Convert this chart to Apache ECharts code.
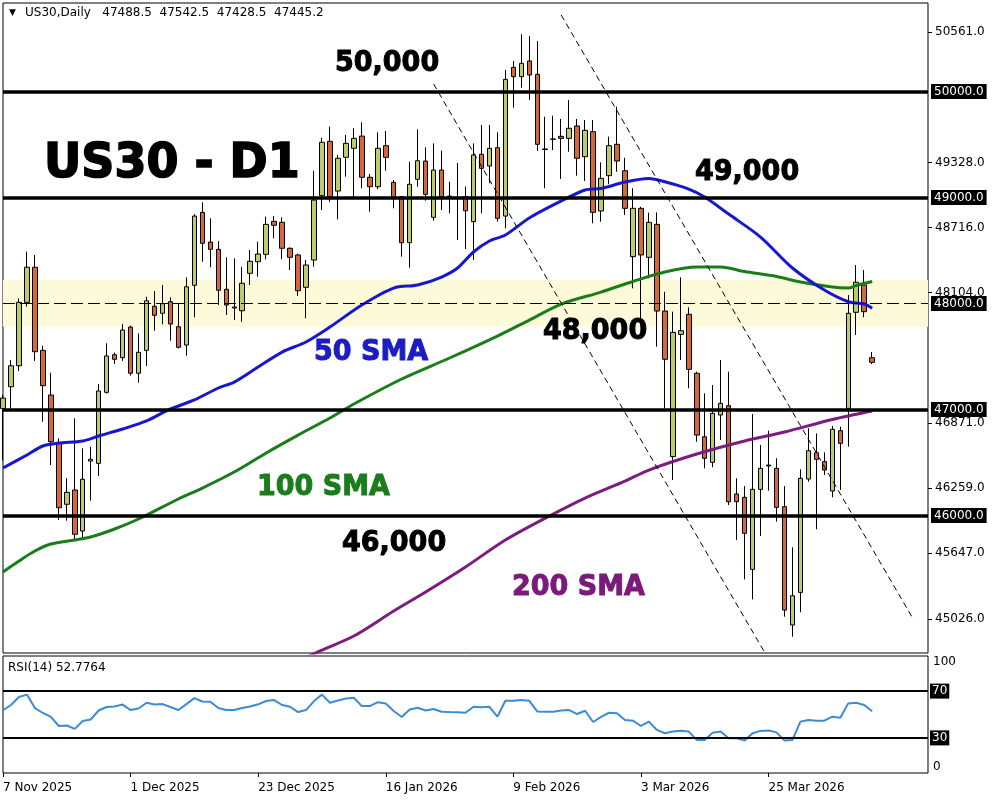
<!DOCTYPE html>
<html>
<head>
<meta charset="utf-8">
<title>US30 - D1</title>
<script src="https://cdn.jsdelivr.net/npm/echarts@6/dist/echarts.min.js"></script>
<style>
  html, body { margin: 0; padding: 0; background: #fff; }
  #chart { width: 1000px; height: 800px; }
</style>
</head>
<body>
<div id="chart"></div>
<script>
// trading days shown on the chart (last few are empty space on the right)
const monthDays = [
    ['Nov 2025', [7, 10, 11, 12, 13, 14, 17, 18, 19, 20, 21, 24, 25, 26, 27, 28]],
    ['Dec 2025', [1, 2, 3, 4, 5, 8, 9, 10, 11, 12, 15, 16, 17, 18, 19, 22, 23, 24, 26, 29, 30, 31]],
    ['Jan 2026', [2, 5, 6, 7, 8, 9, 12, 13, 14, 15, 16, 19, 20, 21, 22, 23, 26, 27, 28, 29, 30]],
    ['Feb 2026', [2, 3, 4, 5, 6, 9, 10, 11, 12, 13, 16, 17, 18, 19, 20, 23, 24, 25, 26, 27]],
    ['Mar 2026', [2, 3, 4, 5, 6, 9, 10, 11, 12, 13, 16, 17, 18, 19, 20, 23, 24, 25, 26, 27, 30, 31]],
    ['Apr 2026', [1, 2, 3, 6, 7, 8, 9, 10, 13, 14, 15, 16, 17, 20, 21, 22]],
];
const categories = monthDays.flatMap(([m, days]) => days.map((d) => `${d} ${m}`));
const labelIndexes = [0, 16, 32, 48, 64, 80, 96];

const opens = [
    47010, 47215, 47413, 48011, 48342, 47558, 47137, 46681, 46106, 46241,
    45854, 46514, 46492, 47162, 47517, 47489, 47778, 47342, 47558, 47974,
    47908, 48017, 47781, 47608, 48172, 48860, 48580, 48511, 48134, 47958,
    47932, 48285, 48394, 48464, 48775, 48766, 48521, 48458, 48153, 48410,
    49017, 49530, 49061, 49379, 49464, 49580, 49191, 49102, 49489, 49143,
    49008, 48574, 49172, 49344, 48813, 49259, 49014, 48995, 49008, 48772,
    49408, 49297, 49470, 48825, 50228, 50140, 50288, 50162, 49458, 49549,
    49577, 49558, 49675, 49385, 49621, 48873, 49206, 49502, 49253, 48442,
    48898, 48436, 48747, 47929, 46555, 47709, 47898, 47342, 46743, 46502,
    46948, 47036, 46203, 46172, 45492, 46247, 46476, 46445, 46083, 44967,
    45275, 46344, 46592, 46508, 46231, 46800, 47011, 47917, 48175, 47488.5,
];
const highs = [
    47140, 47467, 48049, 48489, 48458, 47602, 47347, 46728, 46351, 46917,
    46634, 46649, 47241, 47625, 47536, 47807, 47791, 47719, 48064, 48118,
    48175, 48058, 48002, 48247, 48842, 48955, 48804, 48590, 48436, 48426,
    48347, 48505, 48583, 48819, 48825, 48813, 48530, 48470, 48410, 49253,
    49564, 49668, 49401, 49590, 49653, 49709, 49222, 49615, 49627, 49165,
    49015, 49338, 49643, 49474, 49511, 49442, 49149, 49325, 49104, 49511,
    49684, 49684, 49615, 50203, 50288, 50540, 50524, 50476, 49762, 49772,
    49741, 49920, 49741, 49731, 49731, 49332, 49574, 49857, 49375, 49087,
    48913, 48857, 48860, 48111, 47923, 48247, 47964, 47357, 47153, 47231,
    47467, 47357, 46351, 46278, 46958, 46665, 46800, 46540, 46278, 45700,
    46436, 46823, 46775, 46596, 46844, 46838, 48080, 48363, 48316, 47542.5,
];
const lows = [
    46520, 46986, 47363, 47970, 47458, 46885, 46476, 45958, 45951, 45769,
    45785, 46140, 46373, 47150, 47429, 47458, 47319, 47253, 47410, 47743,
    47804, 47649, 47577, 47508, 47870, 48394, 48342, 47986, 47892, 47844,
    47828, 48175, 48253, 48417, 48615, 48417, 48316, 48071, 47860, 48347,
    48882, 48960, 48794, 49196, 48992, 49087, 48866, 49077, 49253, 48898,
    48442, 48338, 49102, 48970, 48781, 48882, 48851, 48599, 48514, 48410,
    48851, 49134, 48772, 48709, 49847, 50036, 49920, 49439, 49087, 49448,
    49175, 49432, 49206, 49156, 48757, 48772, 49125, 49243, 48835, 48143,
    47797, 48238, 47592, 47011, 46335, 47467, 47200, 46696, 46445, 46455,
    46712, 46099, 45769, 45398, 45209, 45807, 46234, 45942, 45045, 44857,
    45087, 46319, 45870, 46382, 46172, 46241, 46649, 47703, 47870, 47428.5,
];
const closes = [
    47108, 47413, 48011, 48342, 47545, 47225, 46696, 46074, 46219, 45823,
    46342, 46530, 47175, 47505, 47474, 47750, 47342, 47540, 48026, 47889,
    47998, 47807, 47587, 48158, 48825, 48568, 48511, 48125, 47986, 47967,
    48191, 48398, 48467, 48747, 48738, 48521, 48436, 48121, 48363, 48976,
    49521, 49008, 49370, 49511, 49558, 49191, 49102, 49464, 49379, 48992,
    48574, 49125, 49347, 49030, 49259, 49008, 49005, 48990, 48875, 49401,
    49275, 49464, 48804, 50115, 50140, 50266, 50156, 49502, 49453, 49552,
    49558, 49653, 49370, 49634, 48860, 49181, 49489, 49344, 48898, 48898,
    48458, 48766, 47929, 47474, 47728, 47743, 47379, 46759, 46540, 46964,
    47058, 46130, 46130, 45832, 46247, 46445, 46467, 46077, 45108, 45243,
    46351, 46611, 46530, 46429, 46813, 46681, 47908, 48200, 47923, 47445.2,
];

// moving averages as [bar index, price]
const sma50 = [
    [0, 46448], [3, 46571], [5, 46656], [7, 46684], [10, 46703], [12, 46750], [15, 46816],
    [18, 46892], [21, 47005], [24, 47090], [27, 47203], [29, 47259], [32, 47401], [35, 47542],
    [38, 47637], [41, 47778], [45, 47986], [49, 48146], [52, 48175], [55, 48250], [57, 48335],
    [59, 48486], [61, 48590], [63, 48646], [66, 48807], [70, 48967], [73, 49071], [75, 49085],
    [78, 49146], [81, 49179], [83, 49149], [86, 49080], [88, 49005], [91, 48844], [95, 48627],
    [99, 48335], [103, 48127], [106, 48017], [108, 47995], [109, 47955],
];
const sma100 = [
    [0, 45467], [2, 45571], [4, 45665], [6, 45731], [9, 45769], [11, 45797], [14, 45873],
    [17, 45967], [22, 46156], [25, 46259], [29, 46410], [33, 46590], [37, 46759], [41, 46920],
    [44, 47052], [50, 47288], [56, 47486], [62, 47693], [66, 47844], [70, 47995], [75, 48108],
    [79, 48208], [83, 48297], [87, 48344], [90, 48344], [93, 48302], [97, 48255], [100, 48203],
    [104, 48156], [106, 48146], [107, 48170], [109, 48208],
];
const sma200 = [
    [38, 44660], [40, 44731], [44, 44863], [49, 45099], [53, 45278], [58, 45514], [63, 45769],
    [69, 46014], [73, 46165], [78, 46325], [81, 46429], [87, 46580], [93, 46703], [98, 46788],
    [104, 46906], [109, 46986],
];

// falling channel (dashed trendlines)
const channelUpper = [[70, 50722], [114, 45042]];
const channelLower = [[54, 50071], [96, 44646]];

const rsi = [
    53.8, 58.1, 64.9, 67.0, 55.5, 51.3, 47.9, 40.2, 40.6, 37.7,
    44.5, 45.7, 53.4, 56.4, 56.8, 58.5, 53.8, 55.1, 60.0, 58.6,
    58.9, 56.4, 53.8, 58.9, 64.0, 61.1, 60.9, 55.5, 53.8, 53.8,
    55.5, 56.8, 58.7, 61.5, 62.3, 58.1, 56.6, 52.1, 53.8, 61.5,
    67.0, 60.0, 61.9, 63.6, 64.3, 57.2, 57.2, 60.5, 59.4, 53.0,
    47.9, 54.3, 55.8, 53.4, 54.7, 52.4, 52.1, 51.9, 51.5, 56.6,
    56.1, 56.6, 48.1, 61.7, 61.7, 62.3, 61.7, 52.6, 52.4, 52.4,
    53.4, 53.8, 50.4, 53.2, 43.6, 47.9, 51.5, 51.0, 45.3, 44.7,
    40.2, 43.9, 36.8, 34.0, 35.5, 36.2, 35.4, 28.3, 28.3, 34.5,
    35.4, 29.7, 29.7, 27.7, 34.0, 36.0, 36.4, 34.7, 27.7, 28.3,
    43.9, 45.3, 44.7, 44.7, 48.1, 47.3, 59.5, 60.0, 58.1, 52.7764,
];

const priceTicks = [45026, 45647, 46259, 46871, 48104, 48716, 49328, 50561];
const solidLevels = [50000, 49000, 47000, 46000];
const dashedLevel = 48000;
const zoneLow = 47781;
const zoneHigh = 48222;
const rsiLevels = [70, 30];

const FONT = 'DejaVu Sans';
const BULL = '#bccb6c';
const BEAR = '#d4673b';

const candleData = opens.map((o, i) => [o, closes[i], lows[i], highs[i]]);
const lastClose = closes[closes.length - 1];

const boxLabel = {
    show: true,
    position: 'end',
    distance: 3,
    color: '#fff',
    backgroundColor: '#000',
    padding: [2, 3, 1, 3],
    fontFamily: FONT,
    fontSize: 12,
};

const annotations = [
    { text: 'US30 - D1', x: 44, y: 164, size: 46, color: '#000' },
    { text: '50,000', x: 335, y: 64, size: 27, color: '#000' },
    { text: '49,000', x: 695, y: 173, size: 27, color: '#000' },
    { text: '48,000', x: 543, y: 332, size: 27, color: '#000' },
    { text: '46,000', x: 342, y: 544, size: 27, color: '#000' },
    { text: '50 SMA', x: 314, y: 353, size: 27, color: '#1c1cc4' },
    { text: '100 SMA', x: 257, y: 488, size: 27, color: '#1a7c1a' },
    { text: '200 SMA', x: 512, y: 588, size: 27, color: '#7c1a7c' },
];

const chart = echarts.init(document.getElementById('chart'), null, { renderer: 'canvas' });

const option = {
    animation: false,
    backgroundColor: '#fff',
    textStyle: { fontFamily: FONT },
    grid: [
        { left: 3, top: 3, width: 925, height: 650, show: true, borderColor: '#000', borderWidth: 1 },
        { left: 3, top: 656, width: 925, height: 117, show: true, borderColor: '#000', borderWidth: 1 },
    ],
    xAxis: [
        {
            type: 'category',
            gridIndex: 0,
            data: categories,
            boundaryGap: false,
            axisLine: { show: false },
            axisTick: { show: false },
            axisLabel: { show: false },
            splitLine: { show: false },
        },
        {
            type: 'category',
            gridIndex: 1,
            data: categories,
            boundaryGap: false,
            axisLine: { show: false },
            axisTick: {
                show: true,
                length: 4,
                interval: (idx) => labelIndexes.includes(idx),
                lineStyle: { color: '#000' },
            },
            axisLabel: {
                interval: (idx) => labelIndexes.includes(idx),
                align: 'left',
                margin: 9,
                color: '#000',
                fontFamily: FONT,
                fontSize: 12,
            },
            splitLine: { show: false },
        },
    ],
    yAxis: [
        {
            type: 'value',
            gridIndex: 0,
            position: 'right',
            min: 44703,
            max: 50835,
            splitLine: { show: false },
            axisLine: { show: false },
            axisTick: { show: true, length: 4, customValues: priceTicks, lineStyle: { color: '#000' } },
            axisLabel: {
                customValues: priceTicks,
                formatter: (v) => v.toFixed(1),
                margin: 7,
                color: '#000',
                fontFamily: FONT,
                fontSize: 12,
            },
        },
        {
            type: 'value',
            gridIndex: 1,
            position: 'right',
            min: 0,
            max: 100,
            splitLine: { show: false },
            axisLine: { show: false },
            axisTick: { show: false },
            axisLabel: {
                customValues: [0, 100],
                margin: 5,
                color: '#000',
                fontFamily: FONT,
                fontSize: 12,
                verticalAlignMinLabel: 'bottom',
                verticalAlignMaxLabel: 'top',
            },
        },
    ],
    graphic: [
        {
            type: 'text',
            x: 9,
            y: 13,
            style: { text: '▼', font: `9px "${FONT}"`, fill: '#000', verticalAlign: 'middle' },
        },
        {
            type: 'text',
            x: 25,
            y: 13,
            style: {
                text: 'US30,Daily   47488.5  47542.5  47428.5  47445.2',
                font: `12px "${FONT}"`,
                fill: '#000',
                verticalAlign: 'middle',
            },
        },
        {
            type: 'text',
            x: 8,
            y: 668,
            style: { text: 'RSI(14) 52.7764', font: `12px "${FONT}"`, fill: '#000', verticalAlign: 'middle' },
        },
        // heavy chart annotations, slightly stroked to look like a black-weight face
        ...annotations.map((a) => ({
            type: 'text',
            x: a.x,
            y: a.y,
            z: 10,
            scaleY: 1.06,
            style: {
                text: a.text,
                font: `bold ${a.size}px "${FONT}"`,
                fill: a.color,
                stroke: a.color,
                lineWidth: a.size > 40 ? 1.6 : 1,
                verticalAlign: 'middle',
            },
        })),
    ],
    series: [
        {
            // pale support / resistance zone behind the candles
            name: 'zone',
            type: 'line',
            xAxisIndex: 0,
            yAxisIndex: 0,
            data: [],
            z: 1,
            silent: true,
            markArea: {
                silent: true,
                itemStyle: { color: '#fcfad8' },
                data: [[{ yAxis: zoneLow }, { yAxis: zoneHigh }]],
            },
        },
        {
            name: 'US30',
            type: 'candlestick',
            xAxisIndex: 0,
            yAxisIndex: 0,
            data: candleData,
            barWidth: 5,
            z: 2,
            itemStyle: {
                color: BULL,
                color0: BEAR,
                borderColor: '#000',
                borderColor0: '#000',
                borderWidth: 1,
            },
        },
        {
            name: '200 SMA',
            type: 'line',
            xAxisIndex: 0,
            yAxisIndex: 0,
            data: sma200,
            smooth: 0.3,
            showSymbol: false,
            clip: true,
            z: 3,
            lineStyle: { color: '#7d1b7e', width: 3 },
        },
        {
            name: '100 SMA',
            type: 'line',
            xAxisIndex: 0,
            yAxisIndex: 0,
            data: sma100,
            smooth: 0.3,
            showSymbol: false,
            clip: true,
            z: 3,
            lineStyle: { color: '#1a7d1a', width: 3 },
        },
        {
            name: '50 SMA',
            type: 'line',
            xAxisIndex: 0,
            yAxisIndex: 0,
            data: sma50,
            smooth: 0.3,
            showSymbol: false,
            clip: true,
            z: 3,
            lineStyle: { color: '#1717cf', width: 3 },
        },
        ...[channelUpper, channelLower].map((pts) => ({
            type: 'line',
            xAxisIndex: 0,
            yAxisIndex: 0,
            data: pts,
            showSymbol: false,
            clip: true,
            z: 3,
            lineStyle: { color: '#000', width: 1, type: [6, 4] },
        })),
        {
            // horizontal levels and their price boxes on the axis
            name: 'levels',
            type: 'line',
            xAxisIndex: 0,
            yAxisIndex: 0,
            data: [],
            z: 5,
            silent: true,
            markLine: {
                silent: true,
                symbol: 'none',
                animation: false,
                lineStyle: { color: '#000', width: 3.5, type: 'solid' },
                label: { ...boxLabel, formatter: (p) => Number(p.value).toFixed(1) },
                data: [
                    ...solidLevels.map((v) => ({ yAxis: v })),
                    { yAxis: dashedLevel, lineStyle: { width: 1, type: [12, 5] } },
                    { yAxis: lastClose, lineStyle: { opacity: 0 } },
                ],
            },
        },
        {
            name: 'RSI(14)',
            type: 'line',
            xAxisIndex: 1,
            yAxisIndex: 1,
            data: rsi,
            showSymbol: false,
            z: 3,
            lineStyle: { color: '#3b8bd6', width: 2 },
            markLine: {
                silent: true,
                symbol: 'none',
                animation: false,
                lineStyle: { color: '#000', width: 2, type: 'solid' },
                label: { ...boxLabel, distance: 2, padding: [2, 2, 1, 2], formatter: (p) => String(p.value) },
                data: rsiLevels.map((v) => ({ yAxis: v })),
            },
        },
    ],
};

chart.setOption(option);

window.addEventListener('resize', () => {
    chart.resize();
});
</script>
</body>
</html>
